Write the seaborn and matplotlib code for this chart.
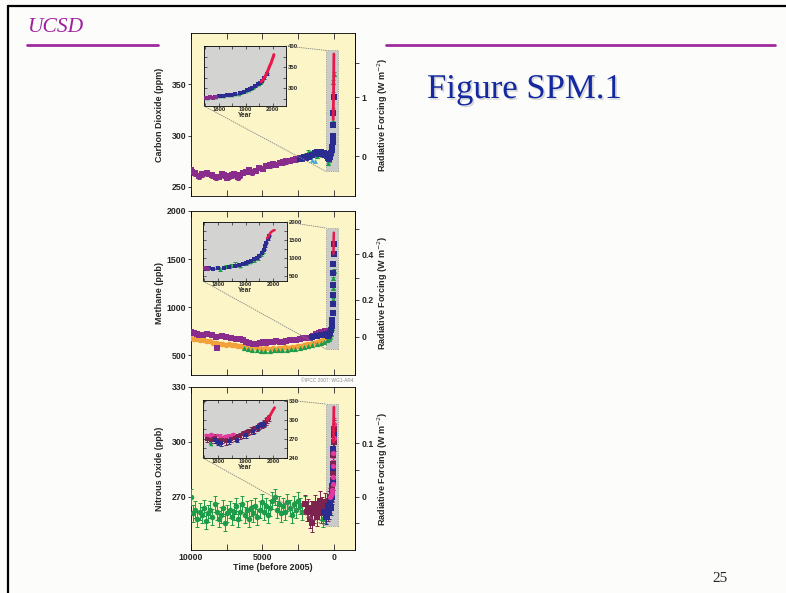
"""
Recreate slide 25 with IPCC Figure SPM.1.

Three stacked panels show carbon dioxide, methane and nitrous oxide
over the last 10000 years, each with an inset for the industrial era
and a radiative forcing scale on the right.
"""

import matplotlib

matplotlib.use("Agg")

import matplotlib.patheffects as path_effects
import matplotlib.pyplot as plt
import numpy as np
import seaborn as sns
from matplotlib.lines import Line2D
from matplotlib.patches import ConnectionPatch, Rectangle
from matplotlib.ticker import FixedLocator, StrMethodFormatter

FIG_W: int = 786
FIG_H: int = 593

YELLOW = "#fcf5c8"
INSET_GRAY = "#d3d4d1"
BOX_GRAY = "#c9cbc8"
PURPLE = "#8a2c8c"
NAVY = "#2a2d8f"
GREEN = "#1e9b4b"
RED = "#e8184a"
ORANGE = "#f2a23a"
PINK = "#e03a9c"
MAROON = "#7c2350"
CYAN = "#3fa9dc"

# ---- carbon dioxide, main panel (years before 2005, ppm) ----
CO2_PURPLE_BP = [10000, 9900, 9700, 9450, 9200, 8850, 8500, 8250, 8030, 7850,
                 7680, 7500, 7320, 7150, 6970, 6740, 6550, 6390, 6150, 5920,
                 5700, 5450, 5210, 4980, 4740, 4500, 4270, 4030, 3800, 3570,
                 3330, 3100, 2860, 2630, 2400, 2200]
CO2_PURPLE = [266.0, 264.5, 263.0, 260.5, 262.0, 263.0, 261.5, 259.5, 260.0, 262.5,
              261.0, 259.0, 260.5, 261.5, 262.0, 259.5, 261.0, 263.5, 264.5, 266.5,
              264.0, 265.5, 268.5, 267.5, 270.5, 271.0, 272.0, 271.5, 273.5, 274.0,
              275.0, 275.5, 276.5, 277.0, 278.5, 277.5]
CO2_NAVY_BP = [2400, 2250, 2100, 1950, 1800, 1650, 1500, 1350, 1200, 1050,
               900, 800, 700, 600, 500, 420, 360, 300, 250, 200,
               160, 120, 90, 70, 50, 35, 20]
CO2_NAVY = [277.5, 278.5, 279.0, 278.0, 280.5, 279.5, 281.0, 282.5, 283.5, 282.0,
            284.0, 283.0, 282.5, 281.0, 280.0, 278.5, 277.0, 279.0, 281.5, 283.0,
            285.5, 289.0, 294.0, 300.0, 310.0, 322.0, 338.0]
CO2_GREEN_BP = [2100, 1950, 1800, 1600, 1400, 1200, 1000, 800, 650, 500,
                400, 330, 260, 200, 150, 110, 80, 60, 45, 35, 28, 18]
CO2_GREEN = [279.5, 281.0, 283.5, 283.0, 281.0, 280.0, 282.0, 281.5, 283.0, 279.0,
             273.0, 276.0, 279.5, 282.5, 286.0, 292.0, 300.0, 312.0, 325.0, 340.0,
             352.0, 360.0]
CO2_CYAN_BP = [1500, 1300]
CO2_CYAN = [276.5, 275.0]

# ---- carbon dioxide, inset (calendar years, ppm) ----
CO2_IN_PURPLE_YR = [1752, 1760, 1768, 1778, 1790]
CO2_IN_PURPLE = [276.0, 277.5, 279.0, 278.0, 279.5]
CO2_IN_GREEN_YR = [1755, 1772, 1790, 1805, 1820, 1835, 1850, 1862, 1875, 1888,
                   1900, 1912, 1922, 1932, 1940, 1950, 1958]
CO2_IN_GREEN = [277, 279, 280, 281, 282, 283.5, 285, 286, 287.5, 290,
                294, 297, 300, 304, 308, 311, 314]
CO2_IN_NAVY_YR = [1785, 1800, 1815, 1830, 1845, 1860, 1880, 1895, 1905, 1915,
                  1925, 1935, 1945, 1955, 1962, 1970, 1978]
CO2_IN_NAVY = [280, 281.5, 282, 283, 284, 286, 289, 292, 295, 298,
               301, 305, 309, 312, 318, 324, 334]
CO2_RED_YR = [1958, 1962, 1966, 1970, 1974, 1978, 1982, 1986, 1990, 1994, 1998, 2002, 2005]
CO2_RED = [315.5, 318.5, 321.5, 325.5, 330.0, 335.0, 341.0, 347.0, 354.0, 358.5, 366.5, 373.0, 379.5]

# ---- methane, main panel (years before 2005, ppb) ----
CH4_PURPLE_BP = [10000, 9790, 9600, 9440, 9150, 8850, 8550, 8260, 8150, 7850,
                 7560, 7200, 6850, 6600, 6380, 6150, 5920, 5680, 5450, 5200,
                 4980, 4750, 4510, 4270, 4040, 3800, 3570, 3330, 3100, 2860,
                 2630, 2400, 2160, 1920, 1690, 1450, 1220, 1050, 870, 630]
CH4_PURPLE = [735, 728, 715, 708, 712, 724, 705, 690, 575, 695,
              688, 680, 672, 665, 655, 640, 622, 618, 610, 625,
              638, 630, 632, 640, 645, 640, 638, 648, 657, 652,
              657, 668, 674, 676, 682, 700, 720, 730, 742, 748]
CH4_ORANGE_BP = [10000, 9780, 9560, 9340, 9120, 8900, 8680, 8460, 8240, 8020,
                 7800, 7580, 7360, 7140, 6920, 6700, 6480, 6260, 6040, 5820,
                 5600, 5380, 5160, 4940, 4720, 4500, 4280, 4060, 3840, 3620,
                 3400, 3180, 2960, 2740, 2520, 2300, 2080, 1860, 1640, 1420,
                 1200, 980, 760, 540, 350]
CH4_ORANGE = [675, 663, 668, 655, 652, 641, 646, 630, 628, 617,
              620, 608, 612, 600, 604, 591, 595, 583, 586, 576,
              580, 569, 574, 563, 568, 562, 571, 566, 575, 570,
              580, 576, 588, 584, 596, 592, 606, 610, 618, 628,
              636, 650, 660, 678, 688]
CH4_GREEN_BP = [6300, 6000, 5700, 5400, 5100, 4800, 4500, 4200, 3900, 3600,
                3300, 3000, 2700, 2400, 2100, 1800, 1500, 1200, 900, 700,
                500, 350, 250, 180, 130, 100, 80, 60, 45, 35, 25]
CH4_GREEN = [575, 560, 552, 548, 545, 543, 546, 550, 548, 552,
             556, 560, 566, 572, 580, 590, 600, 612, 628, 640,
             655, 670, 690, 720, 780, 850, 950, 1080, 1200, 1300, 1380]
CH4_NAVY_BP = [1500, 1200, 900, 700, 550, 420, 320, 240, 180, 140,
               110, 90, 70, 55, 45, 35, 28, 22, 16]
CH4_NAVY = [690, 700, 705, 710, 715, 700, 710, 730, 760, 800,
            870, 940, 1030, 1130, 1230, 1350, 1450, 1550, 1660]

# ---- methane, inset (calendar years, ppb) ----
CH4_IN_NAVY_YR = [1750, 1765, 1780, 1800, 1820, 1840, 1860, 1875, 1890, 1900,
                  1910, 1920, 1930, 1940, 1950, 1958, 1965, 1970, 1975, 1980, 1985]
CH4_IN_NAVY = [700, 715, 705, 720, 735, 745, 780, 800, 830, 860,
               880, 920, 960, 1010, 1060, 1150, 1230, 1330, 1430, 1530, 1620]
CH4_IN_GREEN_YR = [1760, 1795, 1805, 1830, 1845, 1860, 1880, 1900, 1915, 1930, 1945, 1955, 1962]
CH4_IN_GREEN = [710, 740, 690, 770, 800, 830, 790, 860, 900, 940, 1000, 1100, 1180]
CH4_IN_PURPLE_YR = [1752, 1762]
CH4_IN_PURPLE = [720, 705]
CH4_RED_YR = [1978, 1982, 1986, 1990, 1994, 1998, 2002, 2005]
CH4_RED = [1550, 1600, 1650, 1700, 1730, 1750, 1770, 1774]

# ---- nitrous oxide, main panel (years before 2005, ppb) ----
N2O_GREEN_BP = [10000, 9850, 9700, 9550, 9400, 9250, 9100, 8950, 8800, 8650,
                8500, 8350, 8200, 8050, 7900, 7750, 7600, 7450, 7300, 7150,
                7000, 6850, 6700, 6550, 6400, 6250, 6100, 5950, 5800, 5650,
                5500, 5350, 5200, 5050, 4900, 4750, 4600, 4450, 4300, 4150,
                4000, 3850, 3700, 3550, 3400, 3250, 3100, 2950, 2800, 2650,
                2500, 2350, 2200, 2050, 900, 750, 600]
N2O_GREEN = [270, 261, 263, 258, 262, 260, 264, 257, 261, 263,
             259, 266, 262, 258, 260, 264, 256, 261, 263, 259,
             262, 265, 258, 262, 266, 260, 263, 258, 264, 261,
             265, 259, 263, 267, 262, 265, 260, 264, 268, 270,
             263, 266, 261, 265, 262, 267, 264, 260, 266, 263,
             268, 265, 262, 266, 262, 258, 260]
N2O_MAROON_BP = [2000, 1900, 1800, 1700, 1600, 1500, 1400, 1300, 1200, 1100,
                 1000, 900, 800, 700, 600, 500, 420, 350, 290, 240,
                 200, 160, 130, 100, 80, 60, 45, 35, 25, 15]
N2O_MAROON = [266, 262, 264, 258, 263, 256, 261, 266, 259, 263,
              268, 261, 265, 262, 267, 264, 262, 268, 266, 270,
              269, 272, 274, 276, 279, 283, 288, 293, 300, 307]
N2O_NAVY_BP = [700, 550, 420, 330, 260, 200, 150, 110, 80, 55, 35, 20]
N2O_NAVY = [262, 259, 265, 262, 267, 264, 270, 272, 278, 286, 296, 304]
N2O_PINK_BP = [250, 200, 160, 120, 90, 70, 50, 35, 22, 12]
N2O_PINK = [270, 271, 272, 274, 277, 281, 287, 294, 302, 310]

# ---- nitrous oxide, inset (calendar years, ppb) ----
N2O_IN_PINK_YR = [1755, 1765, 1775, 1785, 1795, 1805, 1815, 1825, 1835, 1845, 1855]
N2O_IN_PINK = [276, 275, 277, 274, 276, 275, 273, 274, 275, 276, 277]
N2O_IN_MAROON_YR = [1760, 1775, 1790, 1800, 1815, 1830, 1845, 1860, 1870, 1880, 1890,
                    1900, 1910, 1920, 1930, 1940, 1950, 1958, 1965, 1972, 1978, 1985]
N2O_IN_MAROON = [270, 268, 272, 267, 269, 266, 270, 271, 273, 275, 277,
                 279, 281, 283, 285, 287, 290, 292, 294, 297, 300, 303]
N2O_IN_NAVY_YR = [1790, 1800, 1810, 1840, 1870, 1900, 1925, 1945, 1955, 1965]
N2O_IN_NAVY = [268, 265, 263, 266, 269, 276, 282, 288, 292, 294]
N2O_IN_GREEN_YR = [1770, 1775]
N2O_IN_GREEN = [264, 262]
N2O_RED_YR = [1978, 1982, 1986, 1990, 1994, 1998, 2002, 2005]
N2O_RED = [300, 302, 305, 308, 311, 314, 317, 319]

REFERENCE_YEAR = 2005
TICK_SIZE = 6.3
LABEL_SIZE = 6.5

fig = None


def px_box(left, top, right, bottom):
    """Turn a pixel box of the slide into figure fractions."""
    return [left / FIG_W, 1 - bottom / FIG_H, (right - left) / FIG_W, (bottom - top) / FIG_H]


def co2_forcing(c):
    return 5.35 * np.log(np.asarray(c, dtype=float) / 280.0)


def co2_inverse(f):
    return 280.0 * np.exp(np.asarray(f, dtype=float) / 5.35)


def ch4_forcing(m):
    return 0.0305 * (np.sqrt(np.clip(np.asarray(m, dtype=float), 1, None)) - np.sqrt(688.0))


def ch4_inverse(f):
    return (np.asarray(f, dtype=float) / 0.0305 + np.sqrt(688.0)) ** 2


def n2o_forcing(n):
    return 0.115 * (np.sqrt(np.clip(np.asarray(n, dtype=float), 1, None)) - np.sqrt(270.0))


def n2o_inverse(f):
    return (np.asarray(f, dtype=float) / 0.115 + np.sqrt(270.0)) ** 2


def draw_points(ax, x, y, color, marker="s", size=7, err=0.0, zorder=3):
    """Scatter one record with optional error bars."""
    if err:
        ax.errorbar(x, y, yerr=err, fmt="none", ecolor=color, elinewidth=0.7,
                    capsize=1.4, capthick=0.7, zorder=zorder)
    sns.scatterplot(x=x, y=y, ax=ax, color=color, marker=marker, s=size,
                    linewidth=0, zorder=zorder + 0.1, legend=False)


def draw_red(ax, years, values, to_bp, lw):
    """Atmospheric record drawn as a thick red line."""
    x = [REFERENCE_YEAR - yr for yr in years] if to_bp else years
    sns.lineplot(x=x, y=values, ax=ax, color=RED, lw=lw, zorder=6, sort=False)


def setup_main(rect, box_y):
    ax = fig.add_axes(px_box(*rect))
    ax.set_facecolor(YELLOW)
    ax.add_patch(Rectangle((-280, box_y[0]), 840, box_y[1] - box_y[0], facecolor=BOX_GRAY,
                           edgecolor="#8a8a8a", linestyle=":", lw=0.6, zorder=0.5))
    return ax


def finish_main(ax, ylim, yticks, ylabel, forcing, rf_major, rf_minor, show_time):
    ax.set_xlim(10000, -1480)
    ax.set_ylim(*ylim)
    ax.xaxis.set_major_locator(FixedLocator([10000, 5000, 0]))
    ax.xaxis.set_minor_locator(FixedLocator([7500, 2500]))
    ax.yaxis.set_major_locator(FixedLocator(yticks))
    ax.tick_params(axis="x", which="both", direction="in", top=True, bottom=True,
                   length=4, width=0.6, labelbottom=show_time, labelsize=TICK_SIZE, pad=2)
    ax.tick_params(axis="y", direction="out", length=2.5, width=0.6, labelsize=TICK_SIZE, pad=1)
    for label in ax.get_xticklabels() + ax.get_yticklabels():
        label.set_fontweight("bold")
    for spine in ax.spines.values():
        spine.set_color("black")
        spine.set_linewidth(0.6)
    ax.set_ylabel(ylabel, fontsize=LABEL_SIZE, fontweight="bold")
    ax.yaxis.set_label_coords(-0.165, 0.5)
    if show_time:
        ax.set_xlabel("Time (before 2005)", fontsize=LABEL_SIZE, fontweight="bold", labelpad=1)
    else:
        ax.set_xlabel("")

    sec = ax.secondary_yaxis("right", functions=forcing)
    sec.yaxis.set_major_locator(FixedLocator(rf_major))
    sec.yaxis.set_minor_locator(FixedLocator(rf_minor))
    sec.yaxis.set_major_formatter(StrMethodFormatter("{x:g}"))
    sec.tick_params(which="both", direction="out", length=3, width=0.6,
                    labelsize=TICK_SIZE, pad=1.5)
    for label in sec.get_yticklabels():
        label.set_fontweight("bold")
    sec.spines["right"].set_linewidth(0.6)
    sec.set_ylabel("Radiative Forcing (W m$^{-2}$)", fontsize=LABEL_SIZE, fontweight="bold")
    sec.yaxis.set_label_coords(1.128, 0.5, transform=ax.transAxes)


def setup_inset(rect):
    ins = fig.add_axes(px_box(*rect))
    ins.set_facecolor(INSET_GRAY)
    return ins


def finish_inset(ins, ylim, yticks, yminor):
    ins.set_xlim(1745, 2050)
    ins.set_ylim(*ylim)
    ins.xaxis.set_major_locator(FixedLocator([1800, 1900, 2000]))
    ins.xaxis.set_minor_locator(FixedLocator([1750, 1850, 1950]))
    ins.yaxis.set_major_locator(FixedLocator(yticks))
    ins.yaxis.set_minor_locator(FixedLocator(yminor))
    ins.yaxis.tick_right()
    ins.tick_params(which="both", direction="in", top=True, bottom=True, left=True,
                    right=True, length=2, width=0.5, labelsize=4.2, pad=1)
    for label in ins.get_xticklabels() + ins.get_yticklabels():
        label.set_fontweight("bold")
    for spine in ins.spines.values():
        spine.set_linewidth(0.6)
        spine.set_color("black")
    ins.set_xlabel("Year", fontsize=4.7, fontweight="bold", labelpad=0)
    ins.set_ylabel("")


def connect(ins, ax, box_y):
    """Dotted lines from the inset to the highlighted window."""
    for corner, y in (((1, 1), box_y[1]), ((0, 0), box_y[0])):
        line = ConnectionPatch(xyA=corner, coordsA=ins.transAxes, xyB=(560, y),
                               coordsB=ax.transData, color="#808080", lw=0.6,
                               linestyle=":")
        fig.add_artist(line)


def draw_slide():
    global fig
    sns.set_style("ticks")
    plt.rcParams["font.family"] = ["Liberation Sans", "DejaVu Sans"]

    fig = plt.figure(figsize=(FIG_W / 100, FIG_H / 100), dpi=100)
    fig.patch.set_facecolor("#fcfdfb")

    # slide frame, title rules and headings
    frame = dict(transform=fig.transFigure, color="black", lw=1.6)
    fig.add_artist(Line2D([8 / FIG_W, 8 / FIG_W], [0, 1 - 6 / FIG_H], **frame))
    fig.add_artist(Line2D([8 / FIG_W, 1], [1 - 6 / FIG_H, 1 - 6 / FIG_H], **frame))
    rule = dict(transform=fig.transFigure, color="#9e2a9e", lw=2)
    fig.add_artist(Line2D([27 / FIG_W, 158 / FIG_W], [1 - 45 / FIG_H] * 2, **rule))
    fig.add_artist(Line2D([386 / FIG_W, 775 / FIG_W], [1 - 45 / FIG_H] * 2, **rule))
    fig.text(27 / FIG_W, 1 - 32 / FIG_H, "UCSD", family=["Liberation Serif"], style="italic",
             fontsize=15.5, color="#a0209f", va="baseline")
    fig.text(427 / FIG_W, 1 - 98 / FIG_H, "Figure SPM.1", family=["Liberation Serif"],
             fontsize=25, color="#1428a0", va="baseline",
             path_effects=[path_effects.withSimplePatchShadow(offset=(1.2, -1.2),
                                                              shadow_rgbFace="#a8a8a8", alpha=0.45)])
    fig.text(712 / FIG_W, 1 - 582 / FIG_H, "25", family=["Liberation Serif"], fontsize=11,
             va="baseline")
    fig.text(354 / FIG_W, 1 - 380 / FIG_H, "\u00a9IPCC 2007: WG1-AR4", fontsize=3.5,
             color="#8a8a8a", ha="right", va="center")

    # carbon dioxide
    co2_box = (265, 383)
    ax = setup_main((191, 33, 355, 196), co2_box)
    draw_points(ax, CO2_PURPLE_BP, CO2_PURPLE, PURPLE, "s", 14, err=2.5)
    draw_points(ax, CO2_GREEN_BP, CO2_GREEN, GREEN, "^", 14, err=2)
    draw_points(ax, CO2_NAVY_BP, CO2_NAVY, NAVY, "s", 14, err=1.5)
    draw_points(ax, CO2_CYAN_BP, CO2_CYAN, CYAN, "^", 12)
    draw_red(ax, CO2_RED_YR, CO2_RED, True, 2)
    finish_main(ax, (241, 400), [250, 300, 350], "Carbon Dioxide (ppm)",
                (co2_forcing, co2_inverse), [0, 1], [0.5, 1.5], False)
    ins = setup_inset((204, 46, 286, 106))
    draw_points(ins, CO2_IN_GREEN_YR, CO2_IN_GREEN, GREEN, "^", 7, err=1.5)
    draw_points(ins, CO2_IN_NAVY_YR, CO2_IN_NAVY, NAVY, "s", 7, err=1.5)
    draw_points(ins, CO2_IN_PURPLE_YR, CO2_IN_PURPLE, PURPLE, "s", 7)
    draw_red(ins, CO2_RED_YR, CO2_RED, False, 2.2)
    finish_inset(ins, (258, 400), [300, 350, 400], [275, 325, 375])
    connect(ins, ax, co2_box)

    # methane
    ch4_box = (562, 1823)
    ax = setup_main((191, 211, 355, 375), ch4_box)
    draw_points(ax, CH4_ORANGE_BP, CH4_ORANGE, ORANGE, "o", 16, err=14)
    draw_points(ax, CH4_PURPLE_BP, CH4_PURPLE, PURPLE, "s", 15, err=15)
    draw_points(ax, CH4_GREEN_BP, CH4_GREEN, GREEN, "^", 14, err=15)
    draw_points(ax, CH4_NAVY_BP, CH4_NAVY, NAVY, "s", 15, err=20)
    draw_red(ax, CH4_RED_YR, CH4_RED, True, 1.8)
    finish_main(ax, (292, 2000), [500, 1000, 1500, 2000], "Methane (ppb)",
                (ch4_forcing, ch4_inverse), [0, 0.2, 0.4], [0.1, 0.3, 0.5], False)
    ins = setup_inset((203, 222, 287, 281))
    draw_points(ins, CH4_IN_GREEN_YR, CH4_IN_GREEN, GREEN, "^", 7, err=45)
    draw_points(ins, CH4_IN_NAVY_YR, CH4_IN_NAVY, NAVY, "s", 7, err=20)
    draw_points(ins, CH4_IN_PURPLE_YR, CH4_IN_PURPLE, PURPLE, "s", 7)
    draw_red(ins, CH4_RED_YR, CH4_RED, False, 1.8)
    finish_inset(ins, (360, 2000), [500, 1000, 1500, 2000], [750, 1250, 1750])
    connect(ins, ax, ch4_box)

    # nitrous oxide
    n2o_box = (254, 320.7)
    ax = setup_main((191, 387, 355, 550), n2o_box)
    draw_points(ax, N2O_GREEN_BP, N2O_GREEN, GREEN, "o", 16, err=4.5)
    draw_points(ax, N2O_MAROON_BP, N2O_MAROON, MAROON, "s", 14, err=5)
    draw_points(ax, N2O_NAVY_BP, N2O_NAVY, NAVY, "s", 14, err=4)
    draw_points(ax, N2O_PINK_BP, N2O_PINK, PINK, "o", 14, err=3)
    draw_red(ax, N2O_RED_YR, N2O_RED, True, 2)
    finish_main(ax, (241, 330), [270, 300, 330], "Nitrous Oxide (ppb)",
                (n2o_forcing, n2o_inverse), [0, 0.1], [-0.05, 0.05, 0.15], True)
    ins = setup_inset((203, 400, 287, 458))
    draw_points(ins, N2O_IN_PINK_YR, N2O_IN_PINK, PINK, "o", 7, err=2)
    draw_points(ins, N2O_IN_MAROON_YR, N2O_IN_MAROON, MAROON, "s", 7, err=5)
    draw_points(ins, N2O_IN_NAVY_YR, N2O_IN_NAVY, NAVY, "s", 7, err=4)
    draw_points(ins, N2O_IN_GREEN_YR, N2O_IN_GREEN, GREEN, "^", 7)
    draw_red(ins, N2O_RED_YR, N2O_RED, False, 2)
    finish_inset(ins, (240, 331), [240, 270, 300, 330], [255, 285, 315])
    connect(ins, ax, n2o_box)

    fig.savefig("out.png", dpi=100, facecolor=fig.get_facecolor())


if __name__ == "__main__":
    draw_slide()
